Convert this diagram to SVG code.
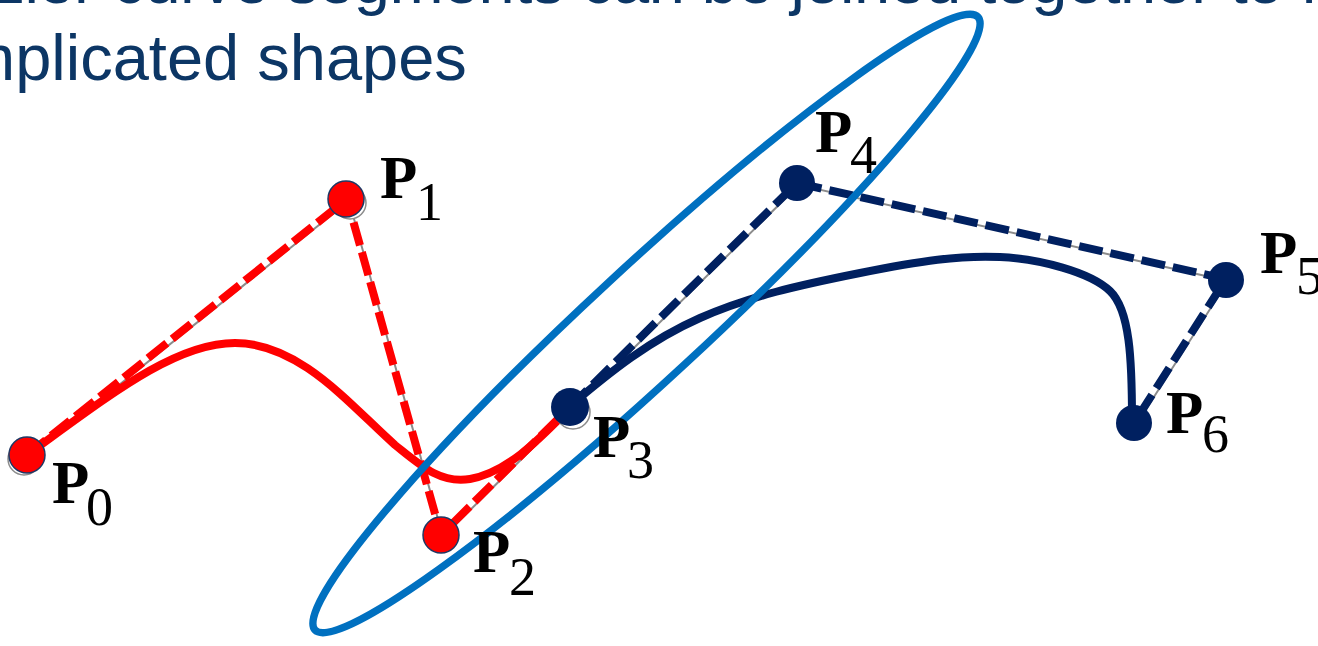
<svg xmlns="http://www.w3.org/2000/svg" width="1318" height="646" viewBox="0 0 1318 646">
  <style>
    .title { font-family: "Liberation Sans", Arial, sans-serif; font-size: 65px; fill: #0C3665; }
    .ghost { fill: none; stroke: #8c8c8c; stroke-width: 2; }
    .dash-red { fill: none; stroke: #FF0000; stroke-width: 8; stroke-dasharray: 24 7; }
    .dash-navy { fill: none; stroke: #002060; stroke-width: 8; stroke-dasharray: 24 8; }
    .curve-red { fill: none; stroke: #FF0000; stroke-width: 8; stroke-linecap: round; }
    .curve-navy { fill: none; stroke: #002060; stroke-width: 8; stroke-linecap: round; }
    .ellipse { fill: none; stroke: #0070C0; stroke-width: 7.5; }
    .dot-red { fill: #FF0000; stroke: #1F3864; stroke-width: 1.5; }
    .dot-navy { fill: #002060; }
    .shadow { fill: #ffffff; stroke: #8c8c8c; stroke-width: 1.5; }
    .lbl { font-family: "Liberation Serif", "Times New Roman", serif; fill: #000000; }
    .P { font-weight: bold; font-size: 61px; }
    .sub { font-weight: normal; font-size: 54px; }
  </style>

  <g id="title">
    <text class="title" x="-7.5" y="3" textLength="1326">zier curve segments can be joined together to f</text>
    <text class="title" x="-39" y="80">mplicated shapes</text>
  </g>

  <g id="connectors">
    <!-- faint underlying guide lines -->
    <polyline class="ghost" points="29,457 349,201 443,537 572,409"/>
    <polyline class="ghost" points="572,409 799,185 1228,281 1136,425"/>
    <!-- control polygon, first segment -->
    <polyline class="dash-red" points="27,455 347,199 441,535 570,407"/>
    <!-- control polygon, second segment -->
    <polyline class="dash-navy" points="570,407 797,183 1226,279 1134,423"/>
    <!-- Bezier curves -->
    <path class="curve-red" d="M27,455 C 110,395 175,343 235,343 C 300,343 350,405 395,445 C 420,465 440,484 470,479 C 510,472 545,433 570,408"/>
    <path class="curve-navy" d="M570,406 C 610,372 650,340 700,318 S 800,285 860,273 S 960,255 1000,257 S 1090,272 1110,291 S 1132,360 1132,420"/>
  </g>

  <g id="highlight">
    <ellipse class="ellipse" cx="646.5" cy="323.5" rx="451.5" ry="56" transform="rotate(-42.76 646.5 323.5)"/>
  </g>

  <g id="P0">
    <circle class="shadow" cx="24" cy="459" r="16"/>
    <circle class="dot-red" cx="27" cy="455" r="18"/>
    <text class="lbl"><tspan class="P" x="52" y="503">P</tspan><tspan class="sub" x="86" y="525">0</tspan></text>
  </g>
  <g id="P1">
    <circle class="shadow" cx="350" cy="203" r="16"/>
    <circle class="dot-red" cx="346" cy="199" r="18"/>
    <text class="lbl"><tspan class="P" x="380" y="198">P</tspan><tspan class="sub" x="416" y="220">1</tspan></text>
  </g>
  <g id="P2">
    <circle class="dot-red" cx="441" cy="535" r="18"/>
    <text class="lbl"><tspan class="P" x="473" y="572">P</tspan><tspan class="sub" x="509" y="595">2</tspan></text>
  </g>
  <g id="P3">
    <circle class="shadow" cx="573" cy="412" r="17"/>
    <circle class="dot-navy" cx="570" cy="407" r="19"/>
    <text class="lbl"><tspan class="P" x="593" y="457">P</tspan><tspan class="sub" x="627" y="478">3</tspan></text>
  </g>
  <g id="P4">
    <circle class="dot-navy" cx="797" cy="183" r="18"/>
    <text class="lbl"><tspan class="P" x="815" y="152">P</tspan><tspan class="sub" x="850" y="173">4</tspan></text>
  </g>
  <g id="P5">
    <circle class="dot-navy" cx="1226" cy="280" r="18"/>
    <text class="lbl"><tspan class="P" x="1260" y="273">P</tspan><tspan class="sub" x="1296" y="294">5</tspan></text>
  </g>
  <g id="P6">
    <circle class="dot-navy" cx="1134" cy="423" r="18"/>
    <text class="lbl"><tspan class="P" x="1166" y="433">P</tspan><tspan class="sub" x="1202" y="452">6</tspan></text>
  </g>
</svg>
